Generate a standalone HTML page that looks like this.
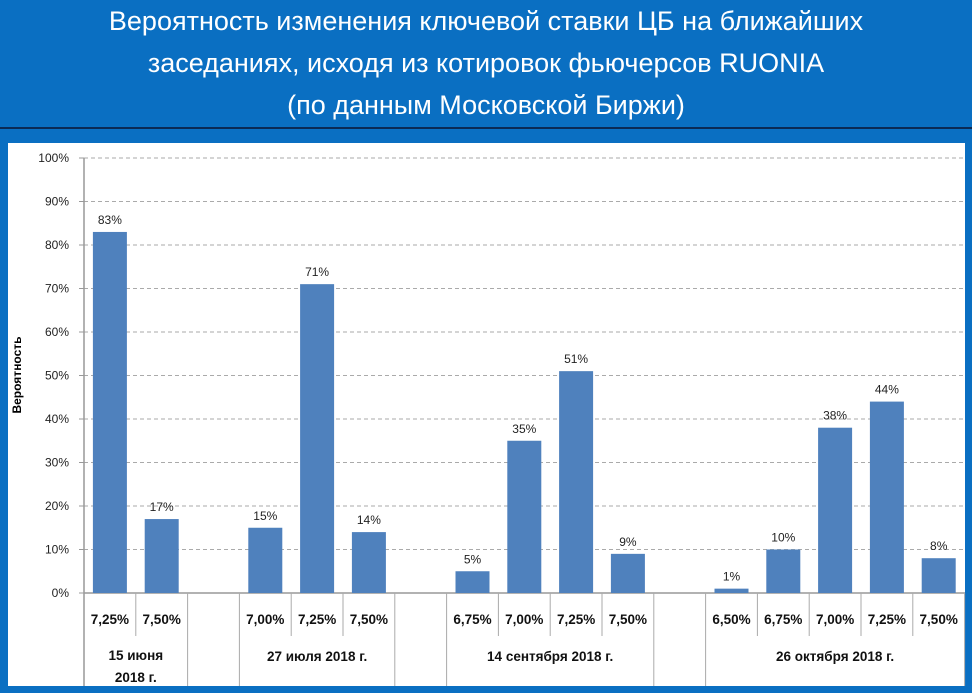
<!DOCTYPE html>
<html><head><meta charset="utf-8"><style>
body{margin:0;width:972px;height:693px;background:#0A6FC2;overflow:hidden;font-family:"Liberation Sans","DejaVu Sans",sans-serif}
#title{position:absolute;left:0;top:0;width:972px;height:127px;border-bottom:2px solid #0b2a55;color:#fff;text-align:center;font-size:27px;line-height:42px;padding-top:0}
#panel{position:absolute;left:8px;top:143px;width:957px;height:543px;background:#fff}
</style></head><body>
<div id="title">Вероятность изменения ключевой ставки ЦБ на ближайших<br>заседаниях, исходя из котировок фьючерсов RUONIA<br>(по данным Московской Биржи)</div>
<div id="panel"></div>
<svg id="chart" width="972" height="693" style="position:absolute;left:0;top:0"></svg>
<script>
const groups=["15 июня|2018 г.","27 июля 2018 г.","14 сентября 2018 г.","26 октября 2018 г."];
const rates=[["7,25%","7,50%"],["7,00%","7,25%","7,50%"],["6,75%","7,00%","7,25%","7,50%"],["6,50%","6,75%","7,00%","7,25%","7,50%"]];
const values=[[83,17],[15,71,14],[5,35,51,9],[1,10,38,44,8]];
const yTicks=[0,10,20,30,40,50,60,70,80,90,100];
const NS="http://www.w3.org/2000/svg",svg=document.getElementById('chart');
const x0=84,slot=51.8,yBase=593,yTop=158,bw=34;
const y=v=>yBase-(yBase-yTop)*v/100;
function el(t,a,txt){const e=document.createElementNS(NS,t);for(const k in a)e.setAttribute(k,a[k]);if(txt!==undefined)e.textContent=txt;svg.appendChild(e);return e;}
yTicks.forEach(t=>{
 if(t>0){const l=el('line',{x1:x0,x2:965,y1:y(t),y2:y(t),stroke:'#aaa','stroke-dasharray':'4,3'});}
 const tx=el('text',{x:69,y:y(t)+4,'text-anchor':'end','font-size':12,fill:'#222'},t+'%');
 
 el('line',{x1:x0-5,x2:x0,y1:y(t),y2:y(t),stroke:'#999'});
});
el('line',{x1:x0,x2:x0,y1:yTop,y2:686,stroke:'#999','stroke-width':1.5});
el('line',{x1:x0,x2:965,y1:yBase,y2:yBase,stroke:'#999','stroke-width':1.5});
const yt=el('text',{x:0,y:0,transform:'translate(21,375) rotate(-90)','text-anchor':'middle','font-size':12,'font-weight':'bold',fill:'#000'},'Вероятность');

let s=0;
groups.forEach((g,gi)=>{
 const start=s;
 rates[gi].forEach((r,ri)=>{
  const cx=x0+slot*(s+0.5),v=values[gi][ri];
  const b=el('rect',{x:cx-bw/2,y:y(v),width:bw,height:yBase-y(v),fill:'#4F81BD'});
  
  const vl=el('text',{x:cx,y:y(v)-8,'text-anchor':'middle','font-size':12,fill:'#222'},v+'%');
  
  const rl=el('text',{x:cx,y:624,'text-anchor':'middle','font-size':13.5,'font-weight':'bold',fill:'#111'},r);
  
  if(ri>0)el('line',{x1:x0+slot*s,x2:x0+slot*s,y1:yBase,y2:636,stroke:'#aaa'});
  s++;
 });
 const gx=x0+slot*(start+s)/2;
 const parts=g.split('|');
 parts.forEach((p,pi)=>{
  const gl=el('text',{x:gx,y:(parts.length>1?660:661)+pi*22,'text-anchor':'middle','font-size':13.5,'font-weight':'bold',fill:'#111'},p);
  
 });
 el('line',{x1:x0+slot*s,x2:x0+slot*s,y1:yBase,y2:686,stroke:'#aaa'});
 if(gi<groups.length-1){s++;el('line',{x1:x0+slot*s,x2:x0+slot*s,y1:yBase,y2:686,stroke:'#aaa'});}
});
</script>
</body></html>
